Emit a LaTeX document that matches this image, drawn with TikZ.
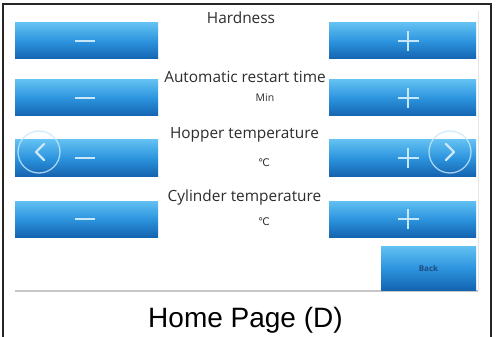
\documentclass[tikz,border=0pt]{standalone}
\usepackage{fontspec}
\setmainfont{Open Sans}
\newfontfamily\arialf{Liberation Sans}
\newfontfamily\dvsans{DejaVu Sans}
\definecolor{btntop}{RGB}{98,193,242}
\definecolor{btnmid}{RGB}{45,148,222}
\definecolor{btnbot}{RGB}{20,100,176}
\definecolor{signcol}{RGB}{200,232,250}
\definecolor{txtcol}{RGB}{45,45,45}
\definecolor{backtxt}{RGB}{30,75,130}
\begin{document}
\begin{tikzpicture}[x=1pt,y=-1pt,
  btn/.style={shading=axis,top color=btntop,bottom color=btnbot,middle color=btnmid,
     minimum height=36pt,inner sep=0pt,draw=none},
  lbtn/.style={btn,minimum width=143pt},
  rbtn/.style={btn,minimum width=147pt},
  lbl/.style={font=\fontsize{15.4}{17}\selectfont,text=txtcol,inner sep=0pt,anchor=base},
  unit/.style={font=\dvsans\fontsize{10.5}{12}\selectfont,text=txtcol,inner sep=0pt},
  sign/.style={draw=signcol,line width=2pt},
  navc/.style={draw=signcol,opacity=0.8,line width=1.3pt},
  chev/.style={draw=signcol,line width=2.2pt,line cap=round,line join=round}]
\useasboundingbox (0,0) rectangle (496,337);
\fill[white] (0,0) rectangle (496,337);
% frame
\draw[line width=2pt,black!85] (3,337) -- (3,4) -- (491,4) -- (491,337);
\draw[black!10,line width=0.8pt] (478,11) -- (478,291);
\draw[black!22,line width=1.6pt] (15,291) -- (478,291);
% buttons
\node[lbtn] (l1) at (86.5,41) {};
\node[lbtn] (l2) at (86.5,98) {};
\node[lbtn] (l3) at (86.5,158) {};
\node[lbtn] (l4) at (86.5,219) {};
\node[rbtn] (r1) at (402.5,41) {};
\node[rbtn] (r2) at (402.5,98) {};
\node[rbtn] (r3) at (402.5,158) {};
\node[rbtn] (r4) at (402.5,219) {};
\node[btn,minimum width=95pt,minimum height=44pt] (back) at (428.5,268) {};
\node[font=\fontsize{8}{9}\selectfont\bfseries,text=backtxt] at (back.center) {Back};
% minus and plus signs
\foreach \n in {l1,l2,l3,l4}{
  \draw[sign] ([xshift=-12pt]\n.center) -- ([xshift=8pt]\n.center);
}
\foreach \n in {r1,r2,r3,r4}{
  \draw[sign] ([xshift=-5pt]\n.center) -- ([xshift=16pt]\n.center);
  \draw[sign] ([xshift=5.5pt,yshift=-10pt]\n.center) -- ([xshift=5.5pt,yshift=10pt]\n.center);
}
% navigation circles
\node[circle,navc,minimum size=42pt,inner sep=0pt] (prev) at (39,152) {};
\node[circle,navc,minimum size=42pt,inner sep=0pt] (next) at (450,152) {};
\draw[chev] ([xshift=5pt,yshift=-8pt]prev.center) -- ([xshift=-3pt]prev.center) -- ([xshift=5pt,yshift=8pt]prev.center);
\draw[chev] ([xshift=-4pt,yshift=-8pt]next.center) -- ([xshift=4pt]next.center) -- ([xshift=-4pt,yshift=8pt]next.center);
% labels
\node[lbl] (t1) at (241,24) {Hardness};
\node[lbl] (t2) at (245,83) {Automatic restart time};
\node[unit,font=\fontsize{10.5}{12}\selectfont] (u1) at (265,98) {Min};
\node[lbl] (t3) at (244.5,139) {Hopper temperature};
\node[unit] (u2) at (264,163) {℃};
\node[lbl] (t4) at (244.5,201) {Cylinder temperature};
\node[unit] (u3) at (264,222) {℃};
% caption
\node[font=\arialf\fontsize{28}{30}\selectfont,anchor=base,inner sep=0pt] (cap) at (245.5,327) {Home Page (D)};
\end{tikzpicture}
\end{document}
